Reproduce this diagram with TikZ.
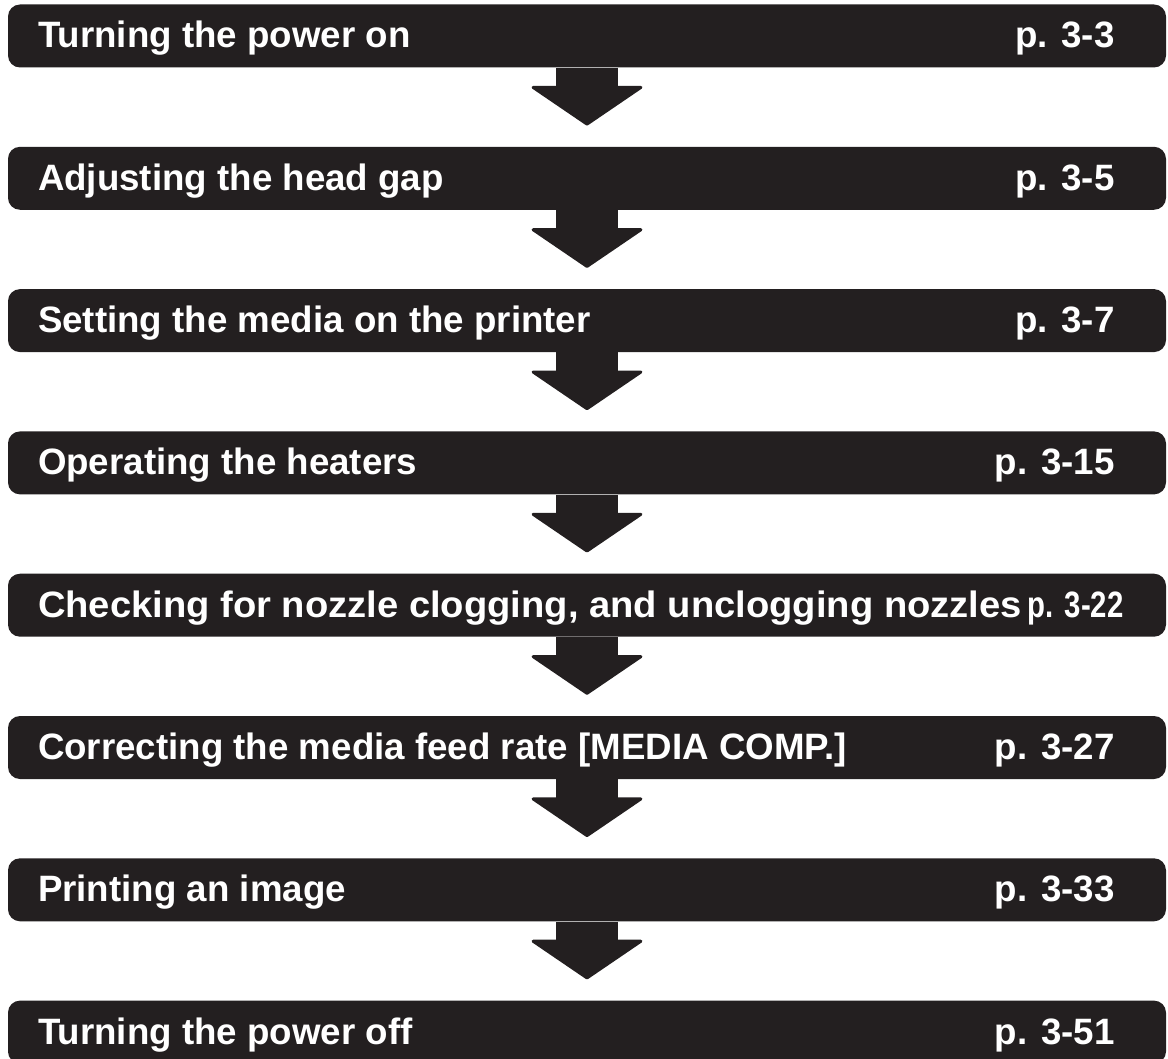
\documentclass[tikz,border=0pt]{standalone}
\usepackage{fontspec}
\usepackage{graphicx}
\setmainfont{Liberation Sans}
\usetikzlibrary{arrows.meta,positioning,calc}
\definecolor{Ink}{HTML}{231F20}
\tikzset{bar/.style={fill=Ink,rounded corners=12pt,minimum width=1158pt,minimum height=63pt,inner sep=0pt},lab/.style={anchor=base west,inner sep=0pt,font=\fontsize{36.7}{42}\selectfont\bfseries,text=white},pg/.style={lab,anchor=base east},flow/.style={draw=Ink,line width=62pt,-{Triangle[length=40pt,width=117pt,line width=3pt,round]},shorten >=21pt}}
\begin{document}
\begin{tikzpicture}[x=1pt,y=-1pt]
\useasboundingbox (0,0) rectangle (1168,1059);
\clip (0,0) rectangle (1168,1059);
\node[bar] (b1) at (587,36) {};
\node[bar] (b2) at (587,178.3) {};
\node[bar] (b3) at (587,320.6) {};
\node[bar] (b4) at (587,462.9) {};
\node[bar] (b5) at (587,605.2) {};
\node[bar] (b6) at (587,747.5) {};
\node[bar] (b7) at (587,889.8) {};
\node[bar] (b8) at (587,1032.1) {};
\node[lab] (t1) at ($(b1.west)+(30,12)$) {Turning the power on};
\node[pg] (p1) at ($(b1.west)+(1107,12)$) {p. 3-3};
\node[lab] (t2) at ($(b2.west)+(30,12)$) {Adjusting the head gap};
\node[pg] (p2) at ($(b2.west)+(1107,12)$) {p. 3-5};
\node[lab] (t3) at ($(b3.west)+(30,12)$) {Setting the media on the printer};
\node[pg] (p3) at ($(b3.west)+(1107,12)$) {p. 3-7};
\node[lab] (t4) at ($(b4.west)+(30,12)$) {Operating the heaters};
\node[pg] (p4) at ($(b4.west)+(1107,12)$) {p. 3-15};
\node[lab] (t5) at ($(b5.west)+(30,12)$) {\scalebox{1.04}[1]{Checking for nozzle clogging, and unclogging nozzles}};
\node[pg] (p5) at ($(b5.west)+(1116,12)$) {\scalebox{0.8}[1]{p. 3-22}};
\node[lab] (t6) at ($(b6.west)+(30,12)$) {Correcting the media feed rate [MEDIA COMP.]};
\node[pg] (p6) at ($(b6.west)+(1107,12)$) {p. 3-27};
\node[lab] (t7) at ($(b7.west)+(30,12)$) {Printing an image};
\node[pg] (p7) at ($(b7.west)+(1107,12)$) {p. 3-33};
\node[lab] (t8) at ($(b8.west)+(30,12)$) {Turning the power off};
\node[pg] (p8) at ($(b8.west)+(1107,12)$) {p. 3-51};
\draw[flow] (b1.south)--(b2.north);
\draw[flow] (b2.south)--(b3.north);
\draw[flow] (b3.south)--(b4.north);
\draw[flow] (b4.south)--(b5.north);
\draw[flow] (b5.south)--(b6.north);
\draw[flow] (b6.south)--(b7.north);
\draw[flow] (b7.south)--(b8.north);
\end{tikzpicture}
\end{document}
